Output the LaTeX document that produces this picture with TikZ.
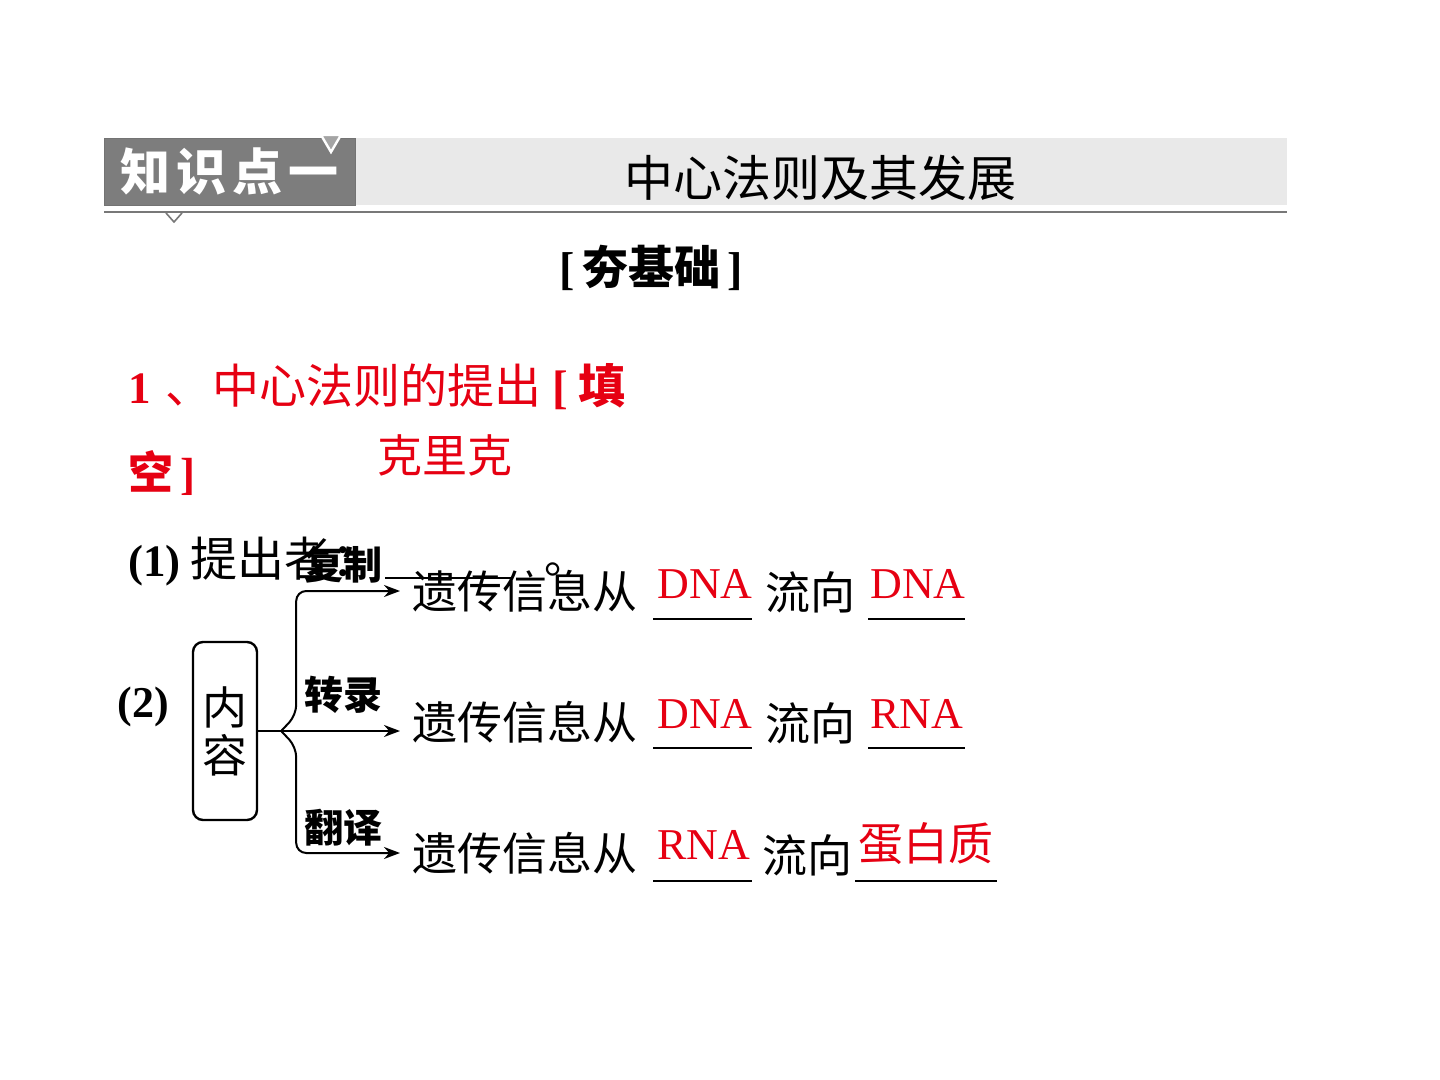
\documentclass[tikz,border=0pt]{standalone}
\usepackage{fontspec}
\setmainfont{Liberation Serif}
\newfontfamily\cjk{Noto Sans CJK SC}
\usetikzlibrary{positioning, arrows.meta, calc}
\definecolor{ansred}{RGB}{230,0,18}
\definecolor{hdrgray}{RGB}{125,125,125}
\definecolor{bargray}{RGB}{233,233,233}
\definecolor{rulegray}{RGB}{120,120,120}
\newcommand{\fsz}[1]{\fontsize{#1}{1.2\dimexpr#1\relax}\selectfont}
\tikzset{
  txt/.style   ={inner sep=0pt, anchor=west, font=\cjk\fsz{22.5pt}},
  ans/.style   ={inner sep=0pt, anchor=base, text=ansred, font=\fsz{22pt}},
  lbl/.style   ={inner sep=0pt, font=\cjk\bfseries\fsz{19.5pt}},
  head/.style  ={inner sep=0pt, font=\cjk\fsz{24.5pt}},
  roww/.style  ={txt, inner xsep=6pt},
  cbox/.style  ={draw, line width=1.2pt, rounded corners=5pt, minimum width=32pt,
                 minimum height=89pt, align=center, inner sep=0pt, font=\cjk\fsz{22.5pt}},
  flow/.style  ={-{Stealth[length=8pt, width=6pt]}, line width=1pt},
  blank/.style ={line width=1pt},
}

\begin{document}
\begin{tikzpicture}[x=0.5pt, y=-0.5pt]
  \useasboundingbox (0,0) rectangle (1440,1080);
  % header bar
  \fill[bargray] (355,138) rectangle (1287,205);
  \node[anchor=north west, fill=hdrgray, draw=black!55, minimum width=125.5pt, minimum height=33.5pt,
        inner sep=0pt, text=white, font=\cjk\bfseries\fsz{25pt}] (hdr) at (104,138)
    {知\hspace{3pt}识\hspace{3pt}点\hspace{3pt}一};
  \draw[white, line width=1.2pt, fill=hdrgray!70] (321,135) -- (341,135) -- (331,152) -- cycle;
  \draw[rulegray, line width=1pt] (104,212) -- (1287,212);
  \draw[rulegray, line width=0.8pt] (166,213) -- (174,222) -- (182,213);
  \node[head] (title) at (820,178) {中心法则及其发展};
  \node[inner sep=0pt, font=\bfseries\fsz{23pt}] (jichu) at (651,268)
    {[\,{\cjk\bfseries 夯基础}\,]};

  \node[txt, text=ansred] (q1) at (128,387)
    {{\fontspec{Liberation Serif}\bfseries 1}\,\,\fsz{23.5pt}、中心法则的提出\ {\fontspec{Liberation Serif}\bfseries [}\ {\bfseries 填}};
  \node[txt, text=ansred] (q1b) at (128,473) {{\bfseries 空}\,{\fontspec{Liberation Serif}\bfseries ]}};
  \node[txt, text=ansred] (crick) at (377,455) {克里克};

  \node[txt] (p1) at (128,562) {{\fontspec{Liberation Serif}\bfseries (1)}\ \fsz{23.5pt}提出者：};
  \draw[blank] (385,578) -- (512,578);
  \node[inner sep=0pt, anchor=base west, font=\cjk\fsz{22pt}] (dot) at (544,573) {。};

  \node[inner sep=0pt, font=\bfseries\fsz{22pt}] (p2) at (143,707) {(2)};
  \node[cbox] (neirong) at (225,731) {内\\[-3pt]容};

  % rows
  \node[roww] (r1) at (400,591) {遗传信息从};
  \node[roww] (r2) at (400,722) {遗传信息从};
  \node[roww] (r3) at (400,853) {遗传信息从};
  \node[txt] (to1) at (765,592) {流向};
  \node[txt] (to2) at (765,723) {流向};
  \node[txt] (to3) at (762,855) {流向};

  \node[ans] (a1) at (705,598) {DNA};
  \node[ans] (b1) at (918,598) {DNA};
  \node[ans] (a2) at (705,728) {DNA};
  \node[ans] (b2) at (917,728) {RNA};
  \node[ans] (a3) at (704,859) {RNA};
  \node[txt, anchor=center, text=ansred] (b3) at (926,844) {蛋白质};

  \draw[blank] (653,619) -- (752,619);
  \draw[blank] (868,619) -- (965,619);
  \draw[blank] (653,748) -- (752,748);
  \draw[blank] (868,748) -- (965,748);
  \draw[blank] (653,881) -- (752,881);
  \draw[blank] (855,881) -- (997,881);

  % brace
  \coordinate (fork) at ($(neirong.east)+(23,0)$);
  \draw[flow] (neirong.east) -- (fork) -- (fork -| r2.west);
  \draw[flow, rounded corners=5pt] (fork) -- ++(15,-16) |- (r1.west);
  \draw[flow, rounded corners=5pt] (fork) -- ++(15,16) |- (r3.west);

  \node[lbl] (copy) at (343,565) {复制};
  \node[lbl] (trans) at (343,695) {转录};
  \node[lbl] (transl) at (343,828) {翻译};
\end{tikzpicture}
\end{document}
